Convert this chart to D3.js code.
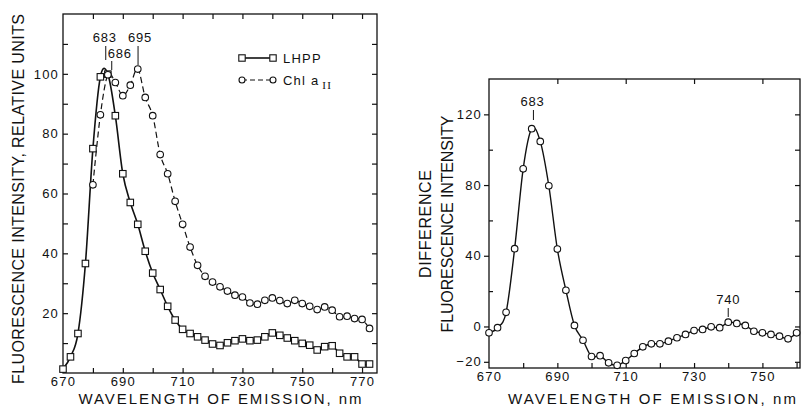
<!DOCTYPE html>
<html>
<head>
<meta charset="utf-8">
<script src="https://cdn.jsdelivr.net/npm/d3@7"></script>
<style>
  body { margin: 0; background: #fff; }
  svg { display: block; }
  text { font-family: "Liberation Sans", Arial, sans-serif; fill: #111; }
</style>
</head>
<body>
<div id="chart"></div>
<script>
// Left panel: emission spectra, LHPP (squares, solid) and Chl a II (circles, dashed)
const lhppWl = [670, 672.5, 675, 677.5, 680, 682.5, 685, 687.5, 690, 692.5, 695, 697.5, 700, 702.5, 705, 707.5,
  710, 712.5, 715, 717.5, 720, 722.5, 725, 727.5, 730, 732.5, 735, 737.5, 740, 742.5, 745, 747.5,
  750, 752.5, 755, 757.5, 760, 762.5, 765, 767.5, 770, 772.5];
const lhppVal = [1.3, 5.4, 13.2, 36.6, 75, 99, 99.9, 86, 66.6, 57, 49.7, 40.7, 33.4, 27.9, 22.3, 17.7,
  14.6, 13.2, 12.1, 11, 9.7, 9.2, 10.1, 10.8, 11.4, 10.8, 11, 12.1, 13.4, 12.6, 11.7, 10.8,
  9.9, 9.3, 7.7, 8.8, 9.1, 6.6, 5.4, 5.4, 3, 3];

const chlWl = [680, 682.5, 685, 687.5, 690, 692.5, 695, 697.5, 700, 702.5, 705, 707.5,
  710, 712.5, 715, 717.5, 720, 722.5, 725, 727.5, 730, 732.5, 735, 737.5, 740, 742.5, 745, 747.5,
  750, 752.5, 755, 757.5, 760, 762.5, 765, 767.5, 770, 772.5];
const chlVal = [62.9, 86.3, 99.7, 97.1, 92.7, 96.2, 101.6, 92.1, 86, 73, 66.6, 57.4,
  49.7, 42.1, 36, 32.3, 30.4, 28.8, 27.4, 26, 25.4, 23.4, 23, 24.3, 25.1, 24.2, 23.2, 24.3,
  23.2, 22.3, 21.2, 22.1, 21, 18.8, 19, 18.2, 17.9, 14.9];

// Right panel: difference spectrum
const diffWl = [670, 672.5, 675, 677.5, 680, 682.5, 685, 687.5, 690, 692.5, 695, 697.5, 700, 702.5, 705, 707.5,
  710, 712.5, 715, 717.5, 720, 722.5, 725, 727.5, 730, 732.5, 735, 737.5, 740, 742.5, 745, 747.5,
  750, 752.5, 755, 757.5, 760];
const diffVal = [-3.6, -0.7, 8, 44, 89.2, 111.9, 104.7, 79.6, 43.8, 20.5, 0.6, -7.8, -17, -16.5, -20.6, -22,
  -19.3, -15.3, -11.5, -9.8, -9.8, -8.3, -6.4, -4.5, -2.3, -1.7, -0.2, -0.7, 2.4, 1.7, 0.6, -2.7,
  -3.6, -4.5, -5.5, -7, -3.6];

// tick labels
const leftXLabels = [670, 690, 710, 730, 750, 770];
const leftYLabels = [20, 40, 60, 80, 100];
const rightXLabels = [670, 690, 710, 730, 750];
const rightYLabels = [-20, 0, 40, 80, 120];

// peak annotations (label, marker wavelength)
const leftPeaks = [
  { label: "683", wl: 684.3, dx: -1, top: 42, y1: 46, y2: 60 },
  { label: "686", wl: 686.3, dx: 8, top: 58, y1: 61, y2: 70 },
  { label: "695", wl: 695.1, dx: 2, top: 42, y1: 46, y2: 65 }
];
const rightPeaks = [
  { label: "683", wl: 683, dx: -1, top: 106, y1: 110, y2: 120 },
  { label: "740", wl: 740, dx: 0, top: 304, y1: 308, y2: 317 }
];

const W = 801, H = 416;
const svg = d3.select("#chart").append("svg").attr("width", W).attr("height", H);
svg.append("rect").attr("width", W).attr("height", H).attr("fill", "#fff");

const ink = "#111";

/* ── Left panel scales ── */
const xL = d3.scaleLinear().domain([670, 775]).range([63, 377]);
const yL = d3.scaleLinear().domain([0, 120]).range([373, 14]);

/* ── Right panel scales ── */
const xR = d3.scaleLinear().domain([670, 761]).range([489, 800]);
const yR = d3.scaleLinear().domain([-23.5, 140]).range([368, 79]);

function frame(x, y) {
  const [x0, x1] = x.range(), [y0, y1] = y.range();
  svg.append("rect")
    .attr("x", x0).attr("y", y1).attr("width", x1 - x0).attr("height", y0 - y1)
    .attr("fill", "none").attr("stroke", ink).attr("stroke-width", 1.3);
}

function styleAxis(ax) {
  ax.select(".domain").remove();
  ax.selectAll("line").attr("stroke", ink).attr("stroke-width", 1.2);
  ax.selectAll("text")
    .attr("font-size", 13).attr("letter-spacing", 1.2)
    .attr("font-family", "Liberation Sans, Arial, sans-serif").attr("fill", ink);
}

/* ── Left frame and axes ── */
frame(xL, yL);
const ticks10L = d3.range(680, 775, 10);
svg.append("g").attr("transform", `translate(0,${yL(0)})`)
  .call(d3.axisBottom(xL).tickValues(ticks10L).tickSize(-5).tickFormat(""))
  .call(styleAxis);
svg.append("g").attr("transform", `translate(0,${yL(0)})`)
  .call(d3.axisBottom(xL).tickValues(leftXLabels).tickSize(0).tickPadding(4).tickFormat(d3.format("d")))
  .call(styleAxis);
svg.append("g").attr("transform", `translate(0,${yL(120)})`)
  .call(d3.axisTop(xL).tickValues(ticks10L).tickSize(-5).tickFormat(""))
  .call(styleAxis);
svg.append("g").attr("transform", `translate(${xL(670)},0)`)
  .call(d3.axisLeft(yL).tickValues(d3.range(10, 120, 10)).tickSize(-5).tickFormat(""))
  .call(styleAxis);
svg.append("g").attr("transform", `translate(${xL(670)},0)`)
  .call(d3.axisLeft(yL).tickValues(leftYLabels).tickSize(0).tickPadding(4).tickFormat(d3.format("d")))
  .call(styleAxis);
svg.append("g").attr("transform", `translate(${xL(775)},0)`)
  .call(d3.axisRight(yL).tickValues(d3.range(10, 120, 10)).tickSize(-5).tickFormat(""))
  .call(styleAxis);

/* ── Right frame and axes ── */
frame(xR, yR);
svg.append("g").attr("transform", `translate(0,${yR(-23.5)})`)
  .call(d3.axisBottom(xR).tickValues(d3.range(680, 761, 10)).tickSize(-5).tickFormat(""))
  .call(styleAxis);
svg.append("g").attr("transform", `translate(0,${yR(-23.5)})`)
  .call(d3.axisBottom(xR).tickValues(rightXLabels).tickSize(0).tickPadding(4).tickFormat(d3.format("d")))
  .call(styleAxis);
svg.append("g").attr("transform", `translate(0,${yR(140)})`)
  .call(d3.axisTop(xR).tickValues([690, 710, 730, 750]).tickSize(-5).tickFormat(""))
  .call(styleAxis);
svg.append("g").attr("transform", `translate(${xR(670)},0)`)
  .call(d3.axisLeft(yR).tickValues(rightYLabels).tickSize(5).tickPadding(2).tickFormat(d3.format("d")))
  .call(styleAxis);
svg.append("g").attr("transform", `translate(${xR(670)},0)`)
  .call(d3.axisLeft(yR).tickValues([20, 60, 100]).tickSize(-4).tickFormat(""))
  .call(styleAxis);
svg.append("g").attr("transform", `translate(${xR(761)},0)`)
  .call(d3.axisRight(yR).tickValues(d3.range(-20, 140, 20)).tickSize(-5).tickFormat(""))
  .call(styleAxis);

/* ── Curves ── */
const lhpp = lhppWl.map((w, i) => ({ w, v: lhppVal[i] }));
const chl = chlWl.map((w, i) => ({ w, v: chlVal[i] }));
const diff = diffWl.map((w, i) => ({ w, v: diffVal[i] }));

const lineL = d3.line().x(d => xL(d.w)).y(d => yL(d.v)).curve(d3.curveCatmullRom.alpha(0));
const lineR = d3.line().x(d => xR(d.w)).y(d => yR(d.v)).curve(d3.curveCatmullRom.alpha(0));

svg.append("path").datum(chl).attr("d", lineL)
  .attr("fill", "none").attr("stroke", ink).attr("stroke-width", 1.2).attr("stroke-dasharray", "6,3.5");
svg.append("path").datum(lhpp).attr("d", lineL)
  .attr("fill", "none").attr("stroke", ink).attr("stroke-width", 1.6);
svg.append("path").datum(diff).attr("d", lineR)
  .attr("fill", "none").attr("stroke", ink).attr("stroke-width", 1.4);

const SQ = 6.5, R = 3.3;
svg.append("g").selectAll("rect").data(lhpp).join("rect")
  .attr("x", d => xL(d.w) - SQ / 2).attr("y", d => yL(d.v) - SQ / 2)
  .attr("width", SQ).attr("height", SQ)
  .attr("fill", "#fff").attr("stroke", ink).attr("stroke-width", 1.1);
svg.append("g").selectAll("circle").data(chl).join("circle")
  .attr("cx", d => xL(d.w)).attr("cy", d => yL(d.v)).attr("r", R)
  .attr("fill", "#fff").attr("stroke", ink).attr("stroke-width", 1.1);
svg.append("g").selectAll("circle").data(diff).join("circle")
  .attr("cx", d => xR(d.w)).attr("cy", d => yR(d.v)).attr("r", R)
  .attr("fill", "#fff").attr("stroke", ink).attr("stroke-width", 1.1);

/* ── Peak labels ── */
function peaks(list, x) {
  list.forEach(p => {
    svg.append("line").attr("x1", x(p.wl)).attr("x2", x(p.wl)).attr("y1", p.y1).attr("y2", p.y2)
      .attr("stroke", ink).attr("stroke-width", 1);
    svg.append("text").attr("x", x(p.wl) + p.dx).attr("y", p.top)
      .attr("text-anchor", "middle").attr("font-size", 13).attr("letter-spacing", 0.8)
      .text(p.label);
  });
}
peaks(leftPeaks, xL);
peaks(rightPeaks, xR);

/* ── Legend ── */
const lg = svg.append("g").attr("transform", "translate(242,58)");
lg.append("line").attr("x1", 0).attr("x2", 31).attr("stroke", ink).attr("stroke-width", 1.6);
[0, 31].forEach(x => lg.append("rect").attr("x", x - 3.2).attr("y", -3.2).attr("width", 6.4).attr("height", 6.4)
  .attr("fill", "#fff").attr("stroke", ink).attr("stroke-width", 1.1));
lg.append("text").attr("x", 41).attr("y", 5).attr("font-size", 13).attr("letter-spacing", 1.2).text("LHPP");
lg.append("line").attr("x1", 0).attr("x2", 31).attr("y1", 22).attr("y2", 22)
  .attr("stroke", ink).attr("stroke-width", 1.2).attr("stroke-dasharray", "5,3");
[0, 31].forEach(x => lg.append("circle").attr("cx", x).attr("cy", 22).attr("r", 3)
  .attr("fill", "#fff").attr("stroke", ink).attr("stroke-width", 1.1));
const chlT = lg.append("text").attr("x", 41).attr("y", 27).attr("font-size", 13).attr("letter-spacing", 1.2);
chlT.append("tspan").text("Chl a");
chlT.append("tspan").attr("dx", 3).attr("dy", 4).attr("font-size", 11)
  .attr("font-family", "Liberation Serif, serif").text("II");

/* ── Axis titles ── */
svg.append("text").attr("x", 220).attr("y", 404).attr("text-anchor", "middle")
  .attr("font-size", 15).attr("textLength", 283).attr("lengthAdjust", "spacing")
  .text("WAVELENGTH OF EMISSION, nm");
svg.append("text").attr("x", 652).attr("y", 404).attr("text-anchor", "middle")
  .attr("font-size", 15).attr("textLength", 288).attr("lengthAdjust", "spacing")
  .text("WAVELENGTH OF EMISSION, nm");
svg.append("text").attr("transform", "translate(24,199) rotate(-90)").attr("text-anchor", "middle")
  .attr("font-size", 16).attr("textLength", 370).attr("lengthAdjust", "spacing")
  .text("FLUORESCENCE INTENSITY, RELATIVE UNITS");
svg.append("text").attr("transform", "translate(431,224) rotate(-90)").attr("text-anchor", "middle")
  .attr("font-size", 16).attr("textLength", 108).attr("lengthAdjust", "spacing")
  .text("DIFFERENCE");
svg.append("text").attr("transform", "translate(453,224) rotate(-90)").attr("text-anchor", "middle")
  .attr("font-size", 16).attr("textLength", 217).attr("lengthAdjust", "spacing")
  .text("FLUORESCENCE INTENSITY");
</script>
</body>
</html>
